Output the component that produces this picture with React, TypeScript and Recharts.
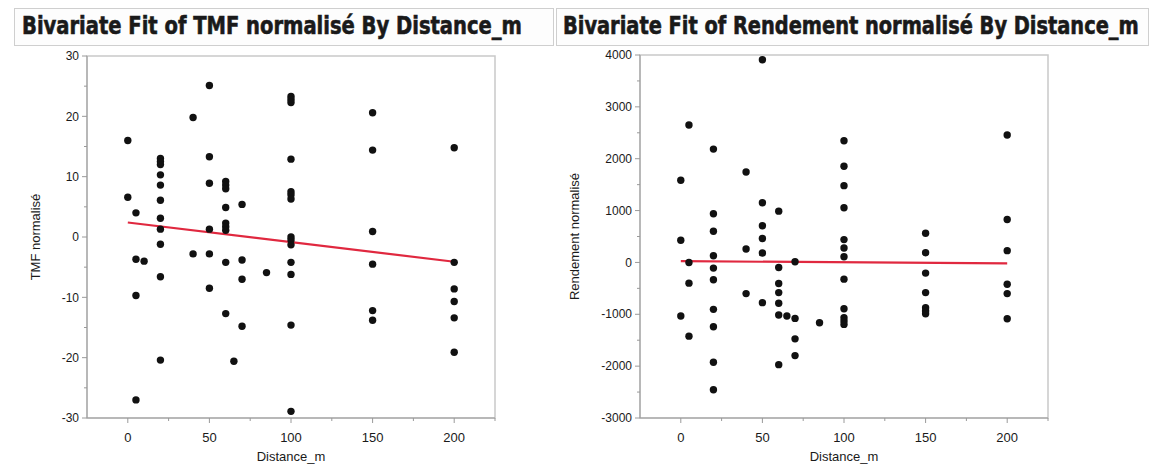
import { useLayoutEffect, useRef, useState } from "react";
import { ReferenceArea, ReferenceLine, Scatter, ScatterChart, XAxis, YAxis } from "recharts";

const tmfX = [
  0, 0,
  5, 5, 5, 5,
  10,
  20, 20, 20, 20, 20, 20, 20, 20, 20, 20, 20,
  40, 40,
  50, 50, 50, 50, 50, 50,
  60, 60, 60, 60, 60, 60, 60, 60, 60,
  65,
  70, 70, 70, 70,
  85,
  100, 100, 100, 100, 100, 100, 100, 100, 100, 100, 100, 100, 100, 100,
  150, 150, 150, 150, 150, 150,
  200, 200, 200, 200, 200, 200,
];
const tmfY = [
  16.0, 6.6,
  4.0, -3.7, -9.7, -27.0,
  -4.0,
  13.0, 12.5, 12.0, 10.3, 8.6, 6.1, 3.1, 1.3, -1.2, -6.6, -20.4,
  19.8, -2.8,
  25.1, 13.3, 8.9, 1.3, -2.8, -8.5,
  9.2, 8.6, 8.0, 4.9, 2.3, 1.7, 1.1, -4.2, -12.7,
  -20.6,
  5.4, -3.8, -7.0, -14.8,
  -5.9,
  23.3, 22.8, 22.3, 12.9, 7.5, 7.0, 6.3, 0.0, -0.5, -1.3, -4.2, -6.2, -14.6, -28.9,
  20.6, 14.4, 0.9, -4.5, -12.2, -13.8,
  14.8, -4.2, -8.6, -10.7, -13.4, -19.1,
];

const rdtX = [
  0, 0, 0,
  5, 5, 5, 5,
  20, 20, 20, 20, 20, 20, 20, 20, 20, 20,
  40, 40, 40,
  50, 50, 50, 50, 50, 50,
  60, 60, 60, 60, 60, 60, 60,
  65,
  70, 70, 70, 70,
  85,
  100, 100, 100, 100, 100, 100, 100, 100, 100, 100, 100, 100,
  150, 150, 150, 150, 150, 150, 150,
  200, 200, 200, 200, 200, 200,
];
const rdtY = [
  1584, 427, -1034,
  2651, 0, -400, -1422,
  2185, 938, 601, 130, -109, -335, -905, -1241, -1925, -2455,
  1745, 260, -601,
  3907, 1152, 706, 460, 182, -776,
  989, -97, -407, -582, -788, -1014, -1971,
  -1034,
  14, -1079, -1474, -1797,
  -1163,
  2347, 1856, 1481, 1055, 440, 279, 110, -322, -892, -1066, -1131, -1195,
  562, 188, -206, -582, -872, -937, -989,
  2457, 828, 227, -420, -601, -1086,
];

// droites d'ajustement (extrémités à x=0 et x=200)
const tmfFit = [{ x: 0, y: 2.4 }, { x: 200, y: -4.1 }];
const rdtFit = [{ x: 0, y: 25 }, { x: 200, y: -20 }];

const xTicks = [0, 25, 50, 75, 100, 125, 150, 175, 200, 225];
const xMajor = [0, 50, 100, 150, 200];
const tmfTicks = [-30, -25, -20, -15, -10, -5, 0, 5, 10, 15, 20, 25, 30];
const tmfMajor = [-30, -20, -10, 0, 10, 20, 30];
const rdtTicks = [-3000, -2500, -2000, -1500, -1000, -500, 0, 500, 1000, 1500, 2000, 2500, 3000, 3500, 4000];
const rdtMajor = [-3000, -2000, -1000, 0, 1000, 2000, 3000, 4000];

const FONT = '"Liberation Sans", Arial, sans-serif';
const TITLE_FONT = '"Liberation Sans Narrow", "DejaVu Sans Condensed", Arial, sans-serif';
const AXIS = "#9a9a9a";
const FIT = "#e0283f";

const zip = (xs: number[], ys: number[]) => xs.map((x, i) => ({ x, y: ys[i] }));

// titre compressé horizontalement pour tenir dans la largeur voulue
function Title({ x, y, width, text }: { x: number; y: number; width: number; text: string }) {
  const ref = useRef<SVGTextElement>(null);
  const [sx, setSx] = useState(1);
  useLayoutEffect(() => {
    const w = ref.current?.getComputedTextLength() ?? width;
    if (w > 0) setSx(width / w);
  }, [width, text]);
  return (
    <text
      ref={ref}
      transform={`translate(${x},${y}) scale(${sx},1)`}
      fontSize={25}
      fontWeight="bold"
      fontFamily={TITLE_FONT}
      fill="#1a1a1a"
      stroke="#1a1a1a"
      strokeWidth={0.6}
    >
      {text}
    </text>
  );
}

function XTick({ x, y, payload }: any) {
  const major = xMajor.includes(payload.value);
  return (
    <g>
      <line x1={x} x2={x} y1={y} y2={y + (major ? 5 : 3)} stroke={AXIS} />
      {major && (
        <text x={x} y={y + 24} textAnchor="middle" fontSize={13} fontFamily={FONT} fill="#1a1a1a">
          {payload.value}
        </text>
      )}
    </g>
  );
}

function makeYTick(major: number[]) {
  return function YTick({ x, y, payload }: any) {
    const isMajor = major.includes(payload.value);
    return (
      <g>
        <line x1={x} x2={x - (isMajor ? 5 : 3)} y1={y} y2={y} stroke={AXIS} />
        {isMajor && (
          <text x={x - 8} y={y} dy="0.35em" textAnchor="end" fontSize={12} fontFamily={FONT} fill="#1a1a1a">
            {payload.value}
          </text>
        )}
      </g>
    );
  };
}

const Dot = ({ cx, cy }: any) => <circle cx={cx} cy={cy} r={3.7} fill="#111" />;

function Panel({
  width, margin, data, fit, yDomain, yTicks, yMajor, yLabel, labelOffset,
}: {
  width: number;
  margin: { top: number; right: number; bottom: number; left: number };
  data: { x: number; y: number }[];
  fit: { x: number; y: number }[];
  yDomain: [number, number];
  yTicks: number[];
  yMajor: number[];
  yLabel: string;
  labelOffset: number;
}) {
  return (
    <ScatterChart width={width} height={469} margin={margin}>
      <ReferenceArea x1={-25} x2={225} y1={yDomain[0]} y2={yDomain[1]} fill="none" stroke="#c9c9c9" strokeWidth={1.5} ifOverflow="visible" />
      <XAxis
        type="number"
        dataKey="x"
        domain={[-25, 225]}
        ticks={xTicks}
        allowDataOverflow
        height={30}
        tickSize={0}
        tickMargin={0}
        tick={<XTick />}
        stroke={AXIS}
        label={{ value: "Distance_m", position: "bottom", offset: 4, fontSize: 13, fontFamily: FONT, fill: "#1a1a1a" }}
      />
      <YAxis
        type="number"
        dataKey="y"
        domain={yDomain}
        ticks={yTicks}
        allowDataOverflow
        width={60}
        tickSize={0}
        tickMargin={0}
        tick={makeYTick(yMajor)}
        stroke={AXIS}
        label={{ value: yLabel, angle: -90, position: "insideLeft", offset: labelOffset, fontSize: 13, fontFamily: FONT, fill: "#1a1a1a", style: { textAnchor: "middle" } }}
      />
      <Scatter data={data} shape={<Dot />} isAnimationActive={false} />
      <ReferenceLine segment={fit} stroke={FIT} strokeWidth={2.2} ifOverflow="visible" />
    </ScatterChart>
  );
}

export default function App() {
  return (
    <div style={{ position: "absolute", left: 0, top: 0, width: 1150, height: 469, background: "#fff", overflow: "hidden" }}>
      <div style={{ position: "absolute", left: 14, top: 8, width: 538, height: 36, border: "1px solid #cfcfcf", background: "#fdfdfd" }} />
      <div style={{ position: "absolute", left: 556, top: 8, width: 591, height: 36, border: "1px solid #cfcfcf", background: "#fdfdfd" }} />
      <svg width={1150} height={50} style={{ position: "absolute", left: 0, top: 0 }}>
        <Title x={22} y={34} width={500} text="Bivariate Fit of TMF normalisé By Distance_m" />
        <Title x={563} y={34} width={576} text="Bivariate Fit of Rendement normalisé By Distance_m" />
      </svg>
      <div style={{ position: "absolute", left: 0, top: 0 }}>
        <Panel
          width={560}
          margin={{ top: 56, right: 65, bottom: 21, left: 27 }}
          data={zip(tmfX, tmfY)}
          fit={tmfFit}
          yDomain={[-30, 30]}
          yTicks={tmfTicks}
          yMajor={tmfMajor}
          yLabel="TMF normalisé"
          labelOffset={8}
        />
      </div>
      <div style={{ position: "absolute", left: 560, top: 0 }}>
        <Panel
          width={590}
          margin={{ top: 55, right: 102, bottom: 21, left: 20 }}
          data={zip(rdtX, rdtY)}
          fit={rdtFit}
          yDomain={[-3000, 4000]}
          yTicks={rdtTicks}
          yMajor={rdtMajor}
          yLabel="Rendement normalisé"
          labelOffset={-6}
        />
      </div>
    </div>
  );
}
